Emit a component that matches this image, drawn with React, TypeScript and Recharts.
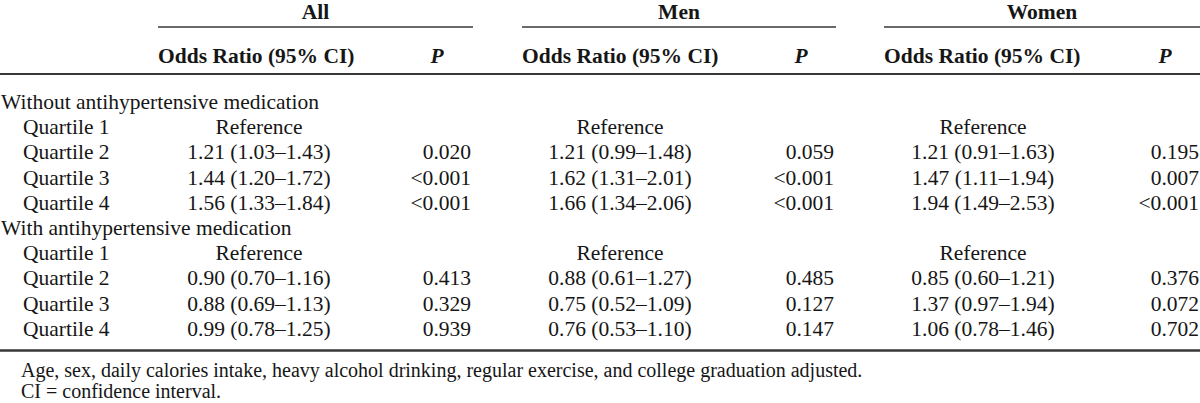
import React from "react";
import { ComposedChart, XAxis, YAxis, Scatter, ReferenceLine } from "recharts";

// ---------- data ----------
const groups = ["All", "Men", "Women"];
const sections = ["Without antihypertensive medication", "With antihypertensive medication"];
const quartiles = ["Quartile 1", "Quartile 2", "Quartile 3", "Quartile 4"];
const orHeader = "Odds Ratio (95% CI)";
const pHeader = "P";

const allWithoutOR = ["Reference", "1.21 (1.03–1.43)", "1.44 (1.20–1.72)", "1.56 (1.33–1.84)"];
const allWithoutP = ["", "0.020", "<0.001", "<0.001"];
const menWithoutOR = ["Reference", "1.21 (0.99–1.48)", "1.62 (1.31–2.01)", "1.66 (1.34–2.06)"];
const menWithoutP = ["", "0.059", "<0.001", "<0.001"];
const womenWithoutOR = ["Reference", "1.21 (0.91–1.63)", "1.47 (1.11–1.94)", "1.94 (1.49–2.53)"];
const womenWithoutP = ["", "0.195", "0.007", "<0.001"];

const allWithOR = ["Reference", "0.90 (0.70–1.16)", "0.88 (0.69–1.13)", "0.99 (0.78–1.25)"];
const allWithP = ["", "0.413", "0.329", "0.939"];
const menWithOR = ["Reference", "0.88 (0.61–1.27)", "0.75 (0.52–1.09)", "0.76 (0.53–1.10)"];
const menWithP = ["", "0.485", "0.127", "0.147"];
const womenWithOR = ["Reference", "0.85 (0.60–1.21)", "1.37 (0.97–1.94)", "1.06 (0.78–1.46)"];
const womenWithP = ["", "0.376", "0.072", "0.702"];

const footnotes = [
  "Age, sex, daily calories intake, heavy alcohol drinking, regular exercise, and college graduation adjusted.",
  "CI = confidence interval.",
];

// ---------- layout (kept apart from data) ----------
const W = 1200;
const H = 403;
const FONT = "'Liberation Serif', 'Times New Roman', serif";
const FS = 21.5;
const FS_NOTE = 20;
const INK = "#161616";
const RULE = "#383838";

const groupSpan = [
  [158, 473],
  [522, 836],
  [884, 1200],
];
const orCenter = [259, 620, 983];
const pRight = [471, 834, 1199];
const pHeaderCenter = [437, 801, 1165];
const headerBase = 19;
const underlineY = 27;
const subBase = 63;
const topRuleY = 74;
const bodyCenter0 = 102;
const rowStep = 25.2;
const bottomRuleY = 350.5;
const noteBase = [376.5, 398];

type Cell = {
  x: number;
  y: number;
  text: string;
  anchor: "start" | "middle" | "end";
  weight?: string;
  italic?: boolean;
  size?: number;
};

function buildCells(): Cell[] {
  const cells: Cell[] = [];
  groups.forEach((g, i) => {
    cells.push({ x: (groupSpan[i][0] + groupSpan[i][1]) / 2, y: headerBase, text: g, anchor: "middle", weight: "bold" });
    cells.push({ x: groupSpan[i][0], y: subBase, text: orHeader, anchor: "start", weight: "bold" });
    cells.push({ x: pHeaderCenter[i], y: subBase, text: pHeader, anchor: "middle", weight: "bold", italic: true });
  });
  const blocks = [
    { title: sections[0], ors: [allWithoutOR, menWithoutOR, womenWithoutOR], ps: [allWithoutP, menWithoutP, womenWithoutP] },
    { title: sections[1], ors: [allWithOR, menWithOR, womenWithOR], ps: [allWithP, menWithP, womenWithP] },
  ];
  let row = 0;
  const base = (r: number) => bodyCenter0 + rowStep * r + 7;
  blocks.forEach((b) => {
    cells.push({ x: 1, y: base(row), text: b.title, anchor: "start" });
    row++;
    quartiles.forEach((q, qi) => {
      cells.push({ x: 23, y: base(row), text: q, anchor: "start" });
      for (let g = 0; g < 3; g++) {
        cells.push({ x: orCenter[g], y: base(row), text: b.ors[g][qi], anchor: "middle" });
        if (b.ps[g][qi]) cells.push({ x: pRight[g], y: base(row), text: b.ps[g][qi], anchor: "end" });
      }
      row++;
    });
  });
  footnotes.forEach((f, i) => {
    cells.push({ x: 21, y: noteBase[i], text: f, anchor: "start", size: FS_NOTE });
  });
  return cells;
}

const cells = buildCells();

const TextShape = (props: any) => {
  const { cx, cy, payload } = props;
  const p: Cell = payload;
  return (
    <text
      x={cx}
      y={cy}
      textAnchor={p.anchor}
      fontFamily={FONT}
      fontSize={p.size ?? FS}
      fontWeight={p.weight ?? "normal"}
      fontStyle={p.italic ? "italic" : "normal"}
      fill={INK}
    >
      {p.text}
    </text>
  );
};

export default function App() {
  return (
    <div style={{ position: "absolute", left: 0, top: 0, width: W, height: H, background: "#fff" }}>
      <ComposedChart width={W} height={H} margin={{ top: 0, right: 0, bottom: 0, left: 0 }} data={cells}>
        <XAxis type="number" dataKey="x" domain={[0, W]} allowDataOverflow hide />
        <YAxis type="number" dataKey="y" domain={[0, H]} allowDataOverflow reversed hide />
        {groupSpan.map((s, i) => (
          <ReferenceLine
            key={"u" + i}
            segment={[
              { x: s[0], y: underlineY },
              { x: s[1], y: underlineY },
            ]}
            stroke={RULE}
            strokeWidth={1.6}
            ifOverflow="visible"
          />
        ))}
        <ReferenceLine
          segment={[
            { x: 0, y: topRuleY },
            { x: W, y: topRuleY },
          ]}
          stroke={RULE}
          strokeWidth={2}
          ifOverflow="visible"
        />
        <ReferenceLine
          segment={[
            { x: 0, y: bottomRuleY },
            { x: W, y: bottomRuleY },
          ]}
          stroke={RULE}
          strokeWidth={2.6}
          ifOverflow="visible"
        />
        <Scatter data={cells} dataKey="y" shape={TextShape} isAnimationActive={false} />
      </ComposedChart>
    </div>
  );
}
